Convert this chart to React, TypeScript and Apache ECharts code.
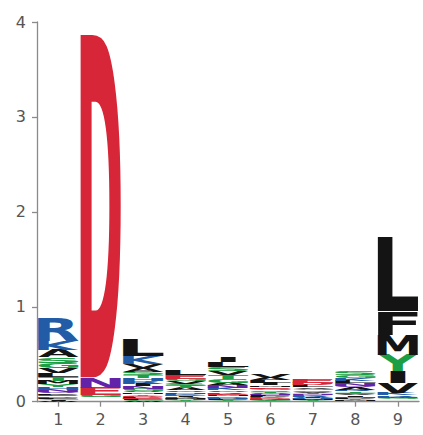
import React, { useEffect, useRef } from "react";
import * as echarts from "echarts";

// Sequence positions along the x axis
const POSITIONS = ["1", "2", "3", "4", "5", "6", "7", "8", "9"];

// Residue alphabet; every position array below follows this order
const RESIDUES = ["A", "C", "D", "E", "F", "G", "H", "I", "K", "L", "M", "N", "P", "Q", "R", "S", "T", "V", "W", "Y"];

// Letter heights (bits) per position
//              A      C      D      E      F      G      H      I      K      L      M      N      P      Q      R      S      T      V      W      Y
const POS_1 = [0.078, 0.012, 0.015, 0.015, 0.012, 0.052, 0.028, 0.010, 0.098, 0.045, 0.035, 0.020, 0.015, 0.018, 0.240, 0.060, 0.040, 0.050, 0.008, 0.030];
const POS_2 = [0.004, 0.002, 3.610, 0.075, 0.002, 0.020, 0.003, 0.002, 0.004, 0.002, 0.002, 0.110, 0.003, 0.004, 0.003, 0.010, 0.005, 0.003, 0.002, 0.003];
const POS_3 = [0.040, 0.010, 0.014, 0.012, 0.010, 0.022, 0.030, 0.025, 0.085, 0.180, 0.018, 0.024, 0.012, 0.020, 0.028, 0.035, 0.032, 0.045, 0.006, 0.015];
const POS_4 = [0.021, 0.004, 0.012, 0.039, 0.004, 0.028, 0.007, 0.010, 0.014, 0.048, 0.007, 0.017, 0.009, 0.017, 0.009, 0.026, 0.024, 0.026, 0.003, 0.006];
const POS_5 = [0.030, 0.005, 0.012, 0.016, 0.008, 0.035, 0.010, 0.060, 0.024, 0.055, 0.014, 0.025, 0.009, 0.020, 0.018, 0.045, 0.040, 0.043, 0.004, 0.007];
const POS_6 = [0.032, 0.006, 0.009, 0.018, 0.011, 0.017, 0.007, 0.023, 0.009, 0.028, 0.018, 0.011, 0.009, 0.011, 0.007, 0.016, 0.014, 0.046, 0.004, 0.005];
const POS_7 = [0.013, 0.003, 0.025, 0.033, 0.004, 0.016, 0.007, 0.008, 0.010, 0.021, 0.006, 0.010, 0.006, 0.008, 0.008, 0.015, 0.012, 0.018, 0.003, 0.005];
const POS_8 = [0.020, 0.005, 0.010, 0.014, 0.004, 0.032, 0.010, 0.012, 0.030, 0.028, 0.007, 0.025, 0.008, 0.022, 0.018, 0.035, 0.016, 0.013, 0.003, 0.007];
const POS_9 = [0.007, 0.002, 0.003, 0.003, 0.250, 0.006, 0.010, 0.123, 0.022, 0.780, 0.211, 0.004, 0.003, 0.004, 0.014, 0.005, 0.005, 0.105, 0.002, 0.176];

const LOGO_MATRIX = [POS_1, POS_2, POS_3, POS_4, POS_5, POS_6, POS_7, POS_8, POS_9];

// y axis ticks (bits)
const Y_TICKS = [0, 1, 2, 3, 4];

// Chemistry colour scheme
const GROUP_COLORS: [string, string][] = [
  ["GSTYC", "#1c9e45"],
  ["NQ", "#6323a8"],
  ["KRH", "#235ca6"],
  ["DE", "#d72638"],
  ["AVLIPWFM", "#141414"],
];

const GLYPH_FONT = "DejaVu Sans";
const GLYPH_SIZE = 100;
const GLYPH_WIDTH = 0.95;
const AXIS_GREY = "#8a8a8a";
const LABEL_GREY = "#555555";

function colorOf(ch: string): string {
  for (const [letters, c] of GROUP_COLORS) if (letters.includes(ch)) return c;
  return "#000";
}

type Ink = { left: number; right: number; top: number; bottom: number };

// Ink box of each glyph relative to the text anchor used by the SVG renderer
// (text-anchor: middle, dominant-baseline: central).
function measureGlyphs(chars: string[]): Record<string, Ink> {
  const canvas = document.createElement("canvas");
  const ctx = canvas.getContext("2d")!;
  ctx.font = `bold ${GLYPH_SIZE}px "${GLYPH_FONT}"`;
  ctx.textAlign = "center";
  ctx.textBaseline = "alphabetic";
  const ref = ctx.measureText("H");
  const asc = ref.fontBoundingBoxAscent || GLYPH_SIZE * 0.928;
  const desc = ref.fontBoundingBoxDescent || GLYPH_SIZE * 0.236;
  let baseline = (asc - desc) / 2;
  try {
    const ns = "http://www.w3.org/2000/svg";
    const svg = document.createElementNS(ns, "svg");
    svg.setAttribute("width", "10");
    svg.setAttribute("height", "10");
    svg.setAttribute("style", "position:absolute;left:-9999px;top:0");
    const t = document.createElementNS(ns, "text");
    t.setAttribute("x", "0");
    t.setAttribute("y", "0");
    t.setAttribute("dominant-baseline", "central");
    t.setAttribute("text-anchor", "middle");
    t.setAttribute("style", `font: bold ${GLYPH_SIZE}px "${GLYPH_FONT}"`);
    t.textContent = "H";
    svg.appendChild(t);
    document.body.appendChild(svg);
    const bb = (t as SVGTextElement).getBBox();
    document.body.removeChild(svg);
    if (bb.height > 0) baseline = bb.y + (bb.height * asc) / (asc + desc);
  } catch (e) {
    /* keep the metric-based estimate */
  }
  const out: Record<string, Ink> = {};
  for (const ch of chars) {
    const m = ctx.measureText(ch);
    out[ch] = {
      left: -m.actualBoundingBoxLeft,
      right: m.actualBoundingBoxRight,
      top: baseline - m.actualBoundingBoxAscent,
      bottom: baseline + m.actualBoundingBoxDescent,
    };
  }
  return out;
}

// Stack letters per position, smallest at the bottom
function buildStacks(): number[][] {
  const items: number[][] = [];
  LOGO_MATRIX.forEach((col, p) => {
    const order = col.map((v, i) => i).sort((a, b) => col[a] - col[b]);
    let base = 0;
    for (const i of order) {
      const h = col[i];
      if (h <= 0) continue;
      items.push([p, base, base + h, i]);
      base += h;
    }
  });
  return items;
}

export default function App() {
  const ref = useRef<HTMLDivElement>(null);

  useEffect(() => {
    if (!ref.current) return;
    const chart = echarts.init(ref.current, null, { renderer: "svg" });
    const ink = measureGlyphs(RESIDUES);
    const eInk = ink["E"];
    const eWidth = eInk.right - eInk.left;

    const renderItem = (params: any, api: any) => {
      const p = api.value(0);
      const y0 = api.value(1);
      const y1 = api.value(2);
      const ch = RESIDUES[api.value(3)];
      const band = api.size([1, 0])[0];
      const bottom = api.coord([p, y0]);
      const top = api.coord([p, y1]);
      const boxW = band * GLYPH_WIDTH;
      const boxH = bottom[1] - top[1];
      const g = ink[ch];
      const w = g.right - g.left;
      const h = g.bottom - g.top;
      // narrow glyphs are not stretched wider than an "E"
      const sx = Math.min(boxW / w, boxW / eWidth);
      const sy = boxH / h;
      const gx = (g.left + g.right) / 2;
      const gy = (g.top + g.bottom) / 2;
      return {
        type: "text",
        x: bottom[0] - gx * sx,
        y: (bottom[1] + top[1]) / 2 - gy * sy,
        scaleX: sx,
        scaleY: sy,
        style: {
          text: ch,
          x: 0,
          y: 0,
          align: "center",
          verticalAlign: "middle",
          fill: colorOf(ch),
          fontSize: GLYPH_SIZE,
          fontWeight: "bold",
          fontFamily: GLYPH_FONT,
        },
      };
    };

    chart.setOption({
      animation: false,
      grid: { left: 37, right: 4, top: 22, bottom: 33.3, containLabel: false, outerBoundsMode: "none" },
      xAxis: {
        type: "category",
        data: POSITIONS,
        axisLine: { show: true, lineStyle: { color: AXIS_GREY, width: 1.3 } },
        axisTick: { show: true, alignWithLabel: true, length: 5, lineStyle: { color: AXIS_GREY, width: 1.3 } },
        axisLabel: { color: LABEL_GREY, fontSize: 16, fontFamily: "DejaVu Sans", margin: 10 },
        splitLine: { show: false },
      },
      yAxis: {
        type: "value",
        min: Y_TICKS[0],
        max: Y_TICKS[Y_TICKS.length - 1],
        interval: 1,
        axisLine: { show: true, lineStyle: { color: AXIS_GREY, width: 1.3 } },
        axisTick: { show: true, length: 5, lineStyle: { color: AXIS_GREY, width: 1.3 } },
        axisLabel: { color: LABEL_GREY, fontSize: 16, fontFamily: "DejaVu Sans", margin: 11 },
        splitLine: { show: false },
      },
      series: [
        {
          type: "custom",
          silent: true,
          clip: false,
          renderItem,
          encode: { x: 0, y: [1, 2] },
          data: buildStacks(),
        },
      ],
    });

    return () => chart.dispose();
  }, []);

  return (
    <div
      ref={ref}
      style={{ position: "fixed", left: 0, top: 0, width: 423, height: 435, background: "#fff" }}
    />
  );
}
